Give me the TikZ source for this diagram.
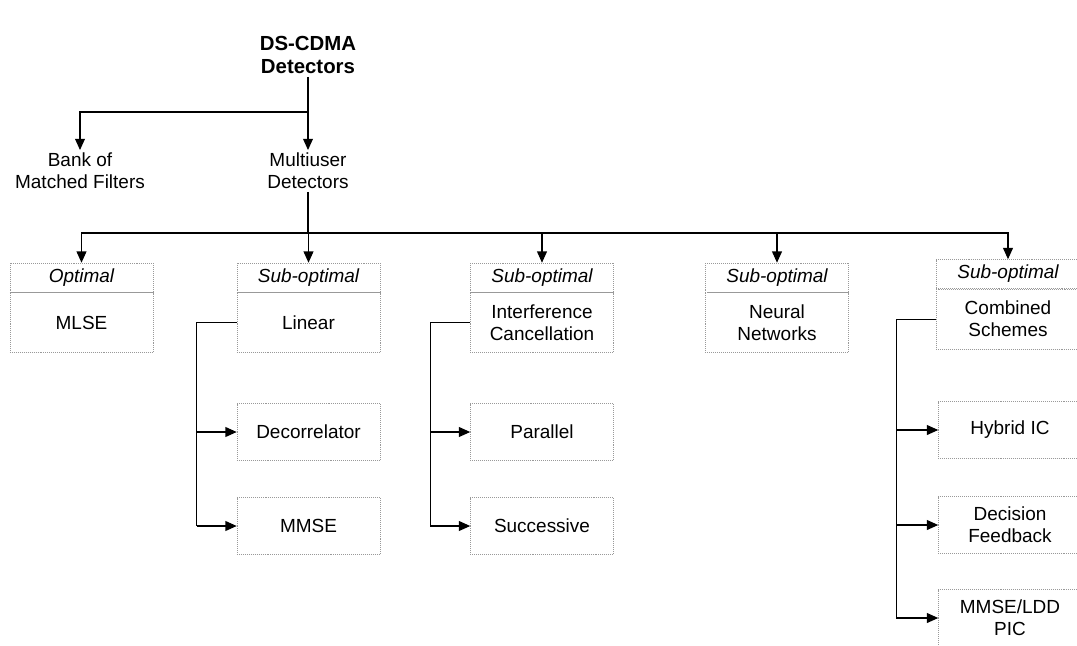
\documentclass[tikz,border=0pt]{standalone}
\usepackage{fontspec}
\setmainfont{Liberation Sans}
\usetikzlibrary{positioning,arrows.meta}

\begin{document}
\begin{tikzpicture}[x=0.025cm, y=-0.025cm,
    every node/.style={font=\fontsize{13.5}{15.5}\selectfont, align=center},
    plain/.style={inner sep=2pt},
    rootbox/.style={font=\fontsize{14.5}{16.5}\selectfont\bfseries, inner sep=2pt},
    headbox/.style={draw=gray!80, densely dotted, minimum width=3.575cm, minimum height=0.725cm, inner sep=1pt, font=\fontsize{13.5}{15.5}\selectfont\itshape},
    mainbox/.style={draw=gray!80, densely dotted, minimum width=3.575cm, minimum height=1.5cm, inner sep=1pt},
    leafbox/.style={draw=gray!80, densely dotted, minimum width=3.575cm, minimum height=1.425cm, inner sep=1pt},
    arr/.style={-{Triangle[length=8pt,width=7pt]}, line width=0.8pt},
    link/.style={line width=0.8pt}]

    \useasboundingbox (0,0) rectangle (1077,645);

    % Top levels
    \node[rootbox] (root) at (308,55) {DS-CDMA\\Detectors};
    \node[plain] (bank) at (80,171) {Bank of\\Matched Filters};
    \node[plain] (multi) at (308,171) {Multiuser\\Detectors};

    \coordinate (s1) at (308,112);
    \coordinate (s2) at (308,233);

    \draw[link] (root) -- (s1);
    \draw[arr] (s1) -| (bank.north);
    \draw[arr] (s1) -- (multi.north);

    % Detector classes
    \node[headbox] (opt-t) at (81.5,277.5) {Optimal};
    \node[mainbox, below=0pt of opt-t] (opt) {MLSE};

    \node[headbox] (lin-t) at (308.5,277.5) {Sub-optimal};
    \node[mainbox, below=0pt of lin-t] (lin) {Linear};

    \node[headbox] (ic-t) at (542,277.5) {Sub-optimal};
    \node[mainbox, below=0pt of ic-t] (ic) {Interference\\Cancellation};

    \node[headbox] (nn-t) at (777,277.5) {Sub-optimal};
    \node[mainbox, below=0pt of nn-t] (nn) {Neural\\Networks};

    \node[headbox] (comb-t) at (1008,274) {Sub-optimal};
    \node[mainbox, below=0pt of comb-t] (comb) {Combined\\Schemes};

    \draw[link] (multi) -- (s2);
    \foreach \c in {opt,lin,ic,nn,comb}
        \draw[arr] (s2) -| (\c-t.north);

    % Linear detectors
    \node[leafbox] (dec) at (308.5,432) {Decorrelator};
    \node[leafbox] (mmse) at (308.5,526) {MMSE};
    \draw[link] (lin.west) -- ++(-40,0) coordinate (b1) -- (b1 |- mmse);
    \foreach \n in {dec,mmse}
        \draw[arr] (b1 |- \n) -- (\n.west);

    % Interference cancellation
    \node[leafbox] (par) at (542,432) {Parallel};
    \node[leafbox] (suc) at (542,526) {Successive};
    \draw[link] (ic.west) -- ++(-40,0) coordinate (b2) -- (b2 |- suc);
    \foreach \n in {par,suc}
        \draw[arr] (b2 |- \n) -- (\n.west);

    % Combined schemes
    \node[leafbox] (hyb) at (1010,430) {Hybrid IC};
    \node[leafbox] (dfb) at (1010,525) {Decision\\Feedback};
    \node[leafbox] (pic) at (1010,618) {MMSE/LDD\\PIC};
    \draw[link] (comb.west) -- ++(-40,0) coordinate (b3) -- (b3 |- pic);
    \foreach \n in {hyb,dfb,pic}
        \draw[arr] (b3 |- \n) -- (\n.west);

\end{tikzpicture}
\end{document}
